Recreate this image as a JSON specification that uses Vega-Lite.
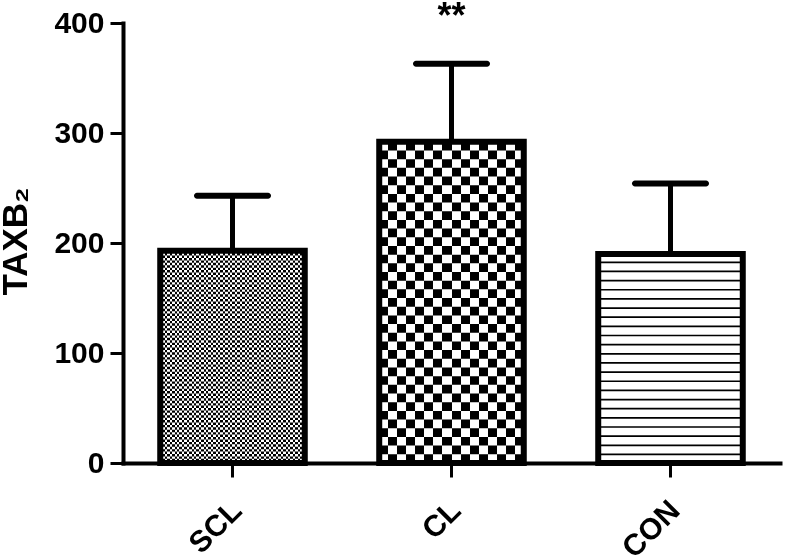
{
  "$schema": "https://vega.github.io/schema/vega-lite/v6.json",
  "width": 657,
  "height": 440,
  "autosize": "none",
  "padding": {"left": 123, "top": 23, "right": 7, "bottom": 95},
  "background": "white",
  "config": {
    "view": {"stroke": null},
    "font": "Liberation Sans",
    "axis": {
      "domainColor": "black", "domainWidth": 4, "domainCap": "square",
      "tickColor": "black", "tickWidth": 3,
      "labelColor": "black", "labelFont": "Liberation Sans", "labelFontWeight": "bold", "labelFontSize": 30,
      "grid": false, "titleColor": "black"
    }
  },
  "data": {"values": [
    {"group": "SCL", "mean": 193, "upper": 243},
    {"group": "CL", "mean": 292, "upper": 363, "sig": "**"},
    {"group": "CON", "mean": 190, "upper": 254}
  ]},
  "encoding": {
    "x": {
      "field": "group", "type": "nominal", "sort": ["SCL", "CL", "CON"],
      "scale": {"paddingInner": 0.34, "paddingOuter": 0.17},
      "axis": {"title": null, "labelAngle": -45, "labelAlign": "right", "labelBaseline": "top", "labelPadding": 18, "tickSize": 14, "labelOffset": -6}
    }
  },
  "layer": [
    {
      "mark": {"type": "bar", "fill": "white", "strokeWidth": 0},
      "encoding": {
        "y": {"field": "mean", "type": "quantitative", "title": "TAXB₂",
          "scale": {"domain": [0, 400], "nice": false},
          "axis": {"values": [0, 100, 200, 300, 400], "tickSize": 13, "labelPadding": 6,
            "titleFont": "Liberation Sans", "titleFontSize": 35, "titleFontWeight": "bold",
            "titleX": -97, "titleY": 218, "titleBaseline": "alphabetic", "titleAngle": -90}}
      }
    },
    {
      "transform": [{"filter": "datum.group === 'SCL'"}],
      "mark": {"type": "rule", "color": "black", "strokeWidth": 144.5, "strokeDash": [2.42, 2.42], "strokeCap": "butt"},
      "encoding": {"y": {"field": "mean", "type": "quantitative", "title": "TAXB₂"}, "y2": {"datum": 0}}
    },
    {
      "transform": [{"filter": "datum.group === 'CL'"}],
      "mark": {"type": "rule", "color": "black", "strokeWidth": 144.5, "strokeDash": [8.68, 8.68], "strokeCap": "butt"},
      "encoding": {"y": {"field": "mean", "type": "quantitative", "title": "TAXB₂"}, "y2": {"datum": 0}}
    },
    {
      "transform": [{"filter": "datum.group === 'CON'"}],
      "mark": {"type": "rule", "color": "black", "strokeWidth": 144.5, "strokeDash": [1.7, 7.45], "strokeDashOffset": 1.7, "strokeCap": "butt"},
      "encoding": {"y": {"field": "mean", "type": "quantitative", "title": "TAXB₂"}, "y2": {"datum": 0}}
    },
    {
      "transform": [{"filter": "datum.group === 'SCL'"}],
      "mark": {"type": "bar", "strokeWidth": 0, "blend": "difference",
        "fill": {"gradient": "linear", "x1": 0, "y1": 0, "x2": 1, "y2": 0, "stops": [
          {"offset": 0, "color": "#fff"},
          {"offset": 0.0167, "color": "#fff"}, {"offset": 0.0167, "color": "transparent"},
          {"offset": 0.0333, "color": "transparent"}, {"offset": 0.0333, "color": "#fff"},
          {"offset": 0.05, "color": "#fff"}, {"offset": 0.05, "color": "transparent"},
          {"offset": 0.0667, "color": "transparent"}, {"offset": 0.0667, "color": "#fff"},
          {"offset": 0.0833, "color": "#fff"}, {"offset": 0.0833, "color": "transparent"},
          {"offset": 0.1, "color": "transparent"}, {"offset": 0.1, "color": "#fff"},
          {"offset": 0.1167, "color": "#fff"}, {"offset": 0.1167, "color": "transparent"},
          {"offset": 0.1333, "color": "transparent"}, {"offset": 0.1333, "color": "#fff"},
          {"offset": 0.15, "color": "#fff"}, {"offset": 0.15, "color": "transparent"},
          {"offset": 0.1667, "color": "transparent"}, {"offset": 0.1667, "color": "#fff"},
          {"offset": 0.1833, "color": "#fff"}, {"offset": 0.1833, "color": "transparent"},
          {"offset": 0.2, "color": "transparent"}, {"offset": 0.2, "color": "#fff"},
          {"offset": 0.2167, "color": "#fff"}, {"offset": 0.2167, "color": "transparent"},
          {"offset": 0.2333, "color": "transparent"}, {"offset": 0.2333, "color": "#fff"},
          {"offset": 0.25, "color": "#fff"}, {"offset": 0.25, "color": "transparent"},
          {"offset": 0.2667, "color": "transparent"}, {"offset": 0.2667, "color": "#fff"},
          {"offset": 0.2833, "color": "#fff"}, {"offset": 0.2833, "color": "transparent"},
          {"offset": 0.3, "color": "transparent"}, {"offset": 0.3, "color": "#fff"},
          {"offset": 0.3167, "color": "#fff"}, {"offset": 0.3167, "color": "transparent"},
          {"offset": 0.3333, "color": "transparent"}, {"offset": 0.3333, "color": "#fff"},
          {"offset": 0.35, "color": "#fff"}, {"offset": 0.35, "color": "transparent"},
          {"offset": 0.3667, "color": "transparent"}, {"offset": 0.3667, "color": "#fff"},
          {"offset": 0.3833, "color": "#fff"}, {"offset": 0.3833, "color": "transparent"},
          {"offset": 0.4, "color": "transparent"}, {"offset": 0.4, "color": "#fff"},
          {"offset": 0.4167, "color": "#fff"}, {"offset": 0.4167, "color": "transparent"},
          {"offset": 0.4333, "color": "transparent"}, {"offset": 0.4333, "color": "#fff"},
          {"offset": 0.45, "color": "#fff"}, {"offset": 0.45, "color": "transparent"},
          {"offset": 0.4667, "color": "transparent"}, {"offset": 0.4667, "color": "#fff"},
          {"offset": 0.4833, "color": "#fff"}, {"offset": 0.4833, "color": "transparent"},
          {"offset": 0.5, "color": "transparent"}, {"offset": 0.5, "color": "#fff"},
          {"offset": 0.5167, "color": "#fff"}, {"offset": 0.5167, "color": "transparent"},
          {"offset": 0.5333, "color": "transparent"}, {"offset": 0.5333, "color": "#fff"},
          {"offset": 0.55, "color": "#fff"}, {"offset": 0.55, "color": "transparent"},
          {"offset": 0.5667, "color": "transparent"}, {"offset": 0.5667, "color": "#fff"},
          {"offset": 0.5833, "color": "#fff"}, {"offset": 0.5833, "color": "transparent"},
          {"offset": 0.6, "color": "transparent"}, {"offset": 0.6, "color": "#fff"},
          {"offset": 0.6167, "color": "#fff"}, {"offset": 0.6167, "color": "transparent"},
          {"offset": 0.6333, "color": "transparent"}, {"offset": 0.6333, "color": "#fff"},
          {"offset": 0.65, "color": "#fff"}, {"offset": 0.65, "color": "transparent"},
          {"offset": 0.6667, "color": "transparent"}, {"offset": 0.6667, "color": "#fff"},
          {"offset": 0.6833, "color": "#fff"}, {"offset": 0.6833, "color": "transparent"},
          {"offset": 0.7, "color": "transparent"}, {"offset": 0.7, "color": "#fff"},
          {"offset": 0.7167, "color": "#fff"}, {"offset": 0.7167, "color": "transparent"},
          {"offset": 0.7333, "color": "transparent"}, {"offset": 0.7333, "color": "#fff"},
          {"offset": 0.75, "color": "#fff"}, {"offset": 0.75, "color": "transparent"},
          {"offset": 0.7667, "color": "transparent"}, {"offset": 0.7667, "color": "#fff"},
          {"offset": 0.7833, "color": "#fff"}, {"offset": 0.7833, "color": "transparent"},
          {"offset": 0.8, "color": "transparent"}, {"offset": 0.8, "color": "#fff"},
          {"offset": 0.8167, "color": "#fff"}, {"offset": 0.8167, "color": "transparent"},
          {"offset": 0.8333, "color": "transparent"}, {"offset": 0.8333, "color": "#fff"},
          {"offset": 0.85, "color": "#fff"}, {"offset": 0.85, "color": "transparent"},
          {"offset": 0.8667, "color": "transparent"}, {"offset": 0.8667, "color": "#fff"},
          {"offset": 0.8833, "color": "#fff"}, {"offset": 0.8833, "color": "transparent"},
          {"offset": 0.9, "color": "transparent"}, {"offset": 0.9, "color": "#fff"},
          {"offset": 0.9167, "color": "#fff"}, {"offset": 0.9167, "color": "transparent"},
          {"offset": 0.9333, "color": "transparent"}, {"offset": 0.9333, "color": "#fff"},
          {"offset": 0.95, "color": "#fff"}, {"offset": 0.95, "color": "transparent"},
          {"offset": 0.9667, "color": "transparent"}, {"offset": 0.9667, "color": "#fff"},
          {"offset": 0.9833, "color": "#fff"}, {"offset": 0.9833, "color": "transparent"},
          {"offset": 1, "color": "transparent"}
        ]}},
      "encoding": {"y": {"field": "mean", "type": "quantitative", "title": "TAXB₂"}}
    },
    {
      "transform": [{"filter": "datum.group === 'CL'"}],
      "mark": {"type": "bar", "strokeWidth": 0, "blend": "difference",
        "fill": {"gradient": "linear", "x1": 0, "y1": 0, "x2": 1, "y2": 0, "stops": [
          {"offset": 0, "color": "#fff"},
          {"offset": 0.0625, "color": "#fff"}, {"offset": 0.0625, "color": "transparent"},
          {"offset": 0.125, "color": "transparent"}, {"offset": 0.125, "color": "#fff"},
          {"offset": 0.1875, "color": "#fff"}, {"offset": 0.1875, "color": "transparent"},
          {"offset": 0.25, "color": "transparent"}, {"offset": 0.25, "color": "#fff"},
          {"offset": 0.3125, "color": "#fff"}, {"offset": 0.3125, "color": "transparent"},
          {"offset": 0.375, "color": "transparent"}, {"offset": 0.375, "color": "#fff"},
          {"offset": 0.4375, "color": "#fff"}, {"offset": 0.4375, "color": "transparent"},
          {"offset": 0.5, "color": "transparent"}, {"offset": 0.5, "color": "#fff"},
          {"offset": 0.5625, "color": "#fff"}, {"offset": 0.5625, "color": "transparent"},
          {"offset": 0.625, "color": "transparent"}, {"offset": 0.625, "color": "#fff"},
          {"offset": 0.6875, "color": "#fff"}, {"offset": 0.6875, "color": "transparent"},
          {"offset": 0.75, "color": "transparent"}, {"offset": 0.75, "color": "#fff"},
          {"offset": 0.8125, "color": "#fff"}, {"offset": 0.8125, "color": "transparent"},
          {"offset": 0.875, "color": "transparent"}, {"offset": 0.875, "color": "#fff"},
          {"offset": 0.9375, "color": "#fff"}, {"offset": 0.9375, "color": "transparent"},
          {"offset": 1, "color": "transparent"}
        ]}},
      "encoding": {"y": {"field": "mean", "type": "quantitative", "title": "TAXB₂"}}
    },
    {
      "mark": {"type": "bar", "fillOpacity": 0, "stroke": "black", "strokeWidth": 6, "strokeJoin": "miter"},
      "encoding": {"y": {"field": "mean", "type": "quantitative", "title": "TAXB₂"}}
    },
    {
      "mark": {"type": "rule", "color": "black", "strokeWidth": 5},
      "encoding": {"y": {"field": "mean", "type": "quantitative", "title": "TAXB₂"}, "y2": {"field": "upper"}}
    },
    {
      "mark": {"type": "tick", "color": "black", "thickness": 6, "size": 77, "cornerRadius": 3, "opacity": 1},
      "encoding": {"y": {"field": "upper", "type": "quantitative", "title": "TAXB₂"}}
    },
    {
      "transform": [{"filter": "datum.sig != null"}],
      "mark": {"type": "text", "color": "black", "fontSize": 36, "fontWeight": "bold", "font": "Liberation Sans", "baseline": "alphabetic", "dy": -36},
      "encoding": {"y": {"field": "upper", "type": "quantitative", "title": "TAXB₂"}, "text": {"field": "sig"}}
    }
  ]
}
